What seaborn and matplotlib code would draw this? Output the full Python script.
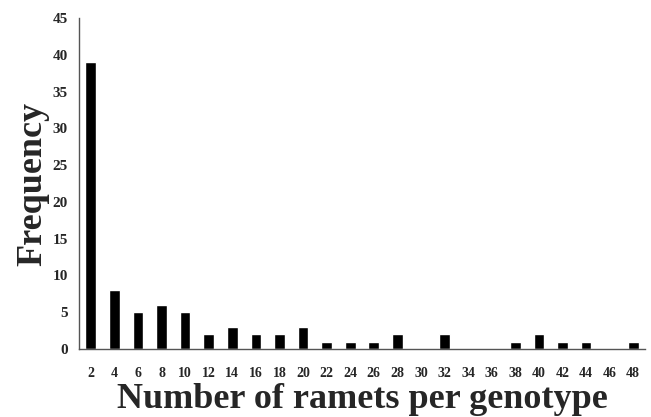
import matplotlib
matplotlib.use("Agg")
import matplotlib.pyplot as plt
import seaborn as sns
import pandas as pd

ramets = [2, 4, 6, 8, 10, 12, 14, 16, 18, 20, 22, 24, 26, 28, 30, 32, 34, 36, 38, 40, 42, 44, 46, 48]
frequency = [39, 8, 5, 6, 5, 2, 3, 2, 2, 3, 1, 1, 1, 2, 0, 2, 0, 0, 1, 2, 1, 1, 0, 1]
yticks = [0, 5, 10, 15, 20, 25, 30, 35, 40, 45]

df = pd.DataFrame({"ramets": [str(r) for r in ramets], "freq": frequency})

sns.set_style("white")
plt.rcParams["font.family"] = ["Liberation Serif", "DejaVu Serif"]
plt.rcParams["font.weight"] = "bold"

fig = plt.figure(figsize=(6.51, 4.17), dpi=100)
ax = fig.add_axes([79/651, 68/417, 566/651, 331/417])
sns.barplot(data=df, x="ramets", y="freq", color="black", width=0.45,
            saturation=1, ax=ax, order=[str(r) for r in ramets])
ax.set_xlim(-0.5, len(ramets) - 0.5)
ax.set_ylim(0, 45)
ax.set_yticks(yticks)
ax.tick_params(axis="x", length=0, labelsize=10, pad=13)
ax.tick_params(axis="y", length=0, labelsize=11, pad=8)
for lab in ax.get_xticklabels() + ax.get_yticklabels():
    lab.set_fontweight("bold")
for s in ["top", "right"]:
    ax.spines[s].set_visible(False)
for s in ["left", "bottom"]:
    ax.spines[s].set_color("#555555")
    ax.spines[s].set_linewidth(1.0)
ax.set_xlabel("Number of ramets per genotype", fontsize=26, fontweight="bold", labelpad=2)
ax.set_ylabel("Frequency", fontsize=26, fontweight="bold", labelpad=2)
fig.savefig("out.png", dpi=100)
